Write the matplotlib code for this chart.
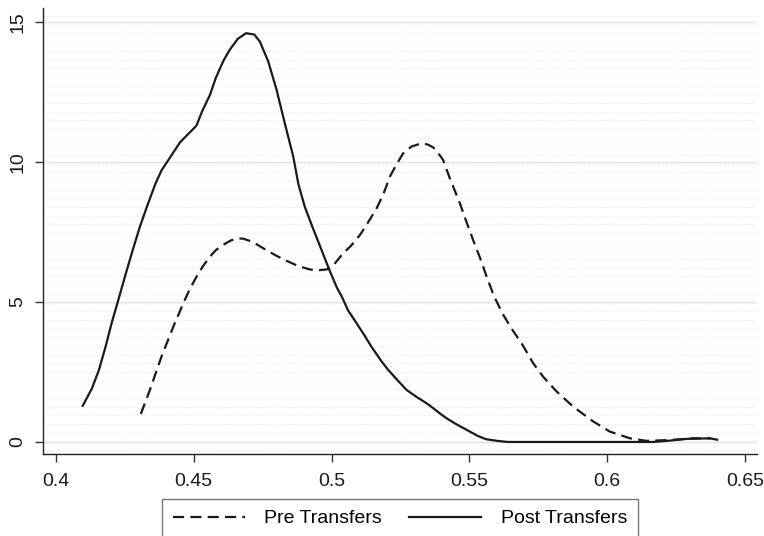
import numpy as np
import matplotlib
matplotlib.use("Agg")
from matplotlib import pyplot as plt

#---------------------- DATA
post_x = [0.4097, 0.4130, 0.4156, 0.4180, 0.4202, 0.4230, 0.4256, 0.4280, 0.4305,
          0.4330, 0.4360, 0.4383, 0.4410, 0.4430, 0.4450, 0.4480, 0.4510, 0.4530,
          0.4559, 0.4580, 0.4607, 0.4630, 0.4660, 0.4690, 0.4720, 0.4740, 0.4770,
          0.4800, 0.4830, 0.4861, 0.4880, 0.4903, 0.4930, 0.4958, 0.4994, 0.5020,
          0.5037, 0.5060, 0.5091, 0.5120, 0.5145, 0.5180, 0.5206, 0.5240, 0.5272,
          0.5310, 0.5345, 0.5370, 0.5393, 0.5420, 0.5450, 0.5502, 0.5530, 0.5560,
          0.5600, 0.5640, 0.5800, 0.6000, 0.6166, 0.6230, 0.6288, 0.6373]
post_y = [1.29, 1.90, 2.57, 3.40, 4.24, 5.20, 6.10, 6.90, 7.70,
          8.40, 9.20, 9.70, 10.10, 10.40, 10.70, 11.00, 11.30, 11.80,
          12.40, 13.00, 13.60, 14.00, 14.40, 14.60, 14.55, 14.30, 13.60,
          12.60, 11.40, 10.20, 9.20, 8.40, 7.70, 7.00, 6.10, 5.50,
          5.20, 4.70, 4.24, 3.80, 3.40, 2.90, 2.57, 2.20, 1.86,
          1.60, 1.38, 1.20, 1.02, 0.83, 0.65, 0.37, 0.22, 0.10,
          0.04, 0.0, 0.0, 0.0, 0.0, 0.05, 0.11, 0.13]

pre_x = [0.4308, 0.4341, 0.4383, 0.4426, 0.4462, 0.4485, 0.4510, 0.4535, 0.4559,
         0.4580, 0.4607, 0.4635, 0.4661, 0.4680, 0.4704, 0.4730, 0.4764, 0.4800,
         0.4837, 0.4880, 0.4922, 0.4950, 0.4982, 0.5010, 0.5042, 0.5070, 0.5103,
         0.5130, 0.5164, 0.5190, 0.5212, 0.5235, 0.5260, 0.5290, 0.5327, 0.5350,
         0.5369, 0.5385, 0.5405, 0.5430, 0.5466, 0.5490, 0.5514, 0.5540, 0.5563,
         0.5590, 0.5623, 0.5660, 0.5690, 0.5732, 0.5768, 0.5817, 0.5877, 0.5950,
         0.6010, 0.6083, 0.6143, 0.6228, 0.6313, 0.6373, 0.6406]
pre_y = [1.00, 1.86, 3.05, 4.12, 4.95, 5.45, 5.90, 6.30, 6.62,
         6.85, 7.04, 7.20, 7.27, 7.26, 7.18, 7.05, 6.85, 6.65,
         6.47, 6.28, 6.16, 6.13, 6.16, 6.35, 6.74, 7.00, 7.39,
         7.80, 8.35, 8.90, 9.48, 9.90, 10.31, 10.55, 10.67, 10.62,
         10.52, 10.35, 10.07, 9.40, 8.52, 7.85, 7.21, 6.55, 5.90,
         5.20, 4.54, 3.95, 3.52, 2.81, 2.33, 1.80, 1.26, 0.73,
         0.37, 0.13, 0.04, 0.07, 0.13, 0.13, 0.07]

x_ticks = [0.4, 0.45, 0.5, 0.55, 0.6, 0.65]
x_labels = ['0.4', '0.45', '0.5', '0.55', '0.6', '0.65']
y_ticks = [0, 5, 10, 15]

#---------------------- STYLE
plt.rcParams['font.family'] = ['Liberation Sans', 'DejaVu Sans']
LINE_COL = '#1a1a1a'

fig = plt.figure(figsize=(7.64, 5.36), dpi=100)
ax = fig.add_axes([43 / 764, 82 / 536, 714 / 764, 446 / 536])

# faint texture rows in the plot background
for yy in np.arange(-0.29, 15.5, 0.31):
    ax.axhline(yy, color='#efefef', lw=0.8, ls=(0, (2, 1.5)), zorder=0)
for yy in y_ticks:
    ax.axhline(yy, color='#e4e4e4', lw=1.0, zorder=1)

ax.plot(pre_x, pre_y, color=LINE_COL, lw=1.6, ls=(0, (5, 2.8)),
        label='Pre Transfers', zorder=3)
ax.plot(post_x, post_y, color=LINE_COL, lw=1.6, label='Post Transfers', zorder=3)

ax.set_xlim(0.3953, 0.6544)
ax.set_ylim(-0.43, 15.5)
ax.set_xticks(x_ticks)
ax.set_xticklabels(x_labels)
ax.set_yticks(y_ticks)
ax.set_yticklabels([str(t) for t in y_ticks], rotation=90, va='center')
ax.tick_params(axis='both', labelsize=14, length=6, width=1, color='#333333',
               labelcolor='#1a1a1a')
ax.tick_params(axis='x', pad=8)
ax.tick_params(axis='y', pad=6)

for side in ['top', 'right']:
    ax.spines[side].set_visible(False)
for side in ['left', 'bottom']:
    ax.spines[side].set_linewidth(1.0)
    ax.spines[side].set_color('#222222')

leg = fig.legend(loc='upper center', bbox_to_anchor=(400 / 764, 1 - 499 / 536),
                 ncol=2, fontsize=14, frameon=True, fancybox=False,
                 handlelength=3.7, handletextpad=1.0, columnspacing=1.4,
                 borderpad=0.55, borderaxespad=0)
leg.get_frame().set_edgecolor('#555555')
leg.get_frame().set_linewidth(1.0)

plt.savefig('out.png', dpi=100)
